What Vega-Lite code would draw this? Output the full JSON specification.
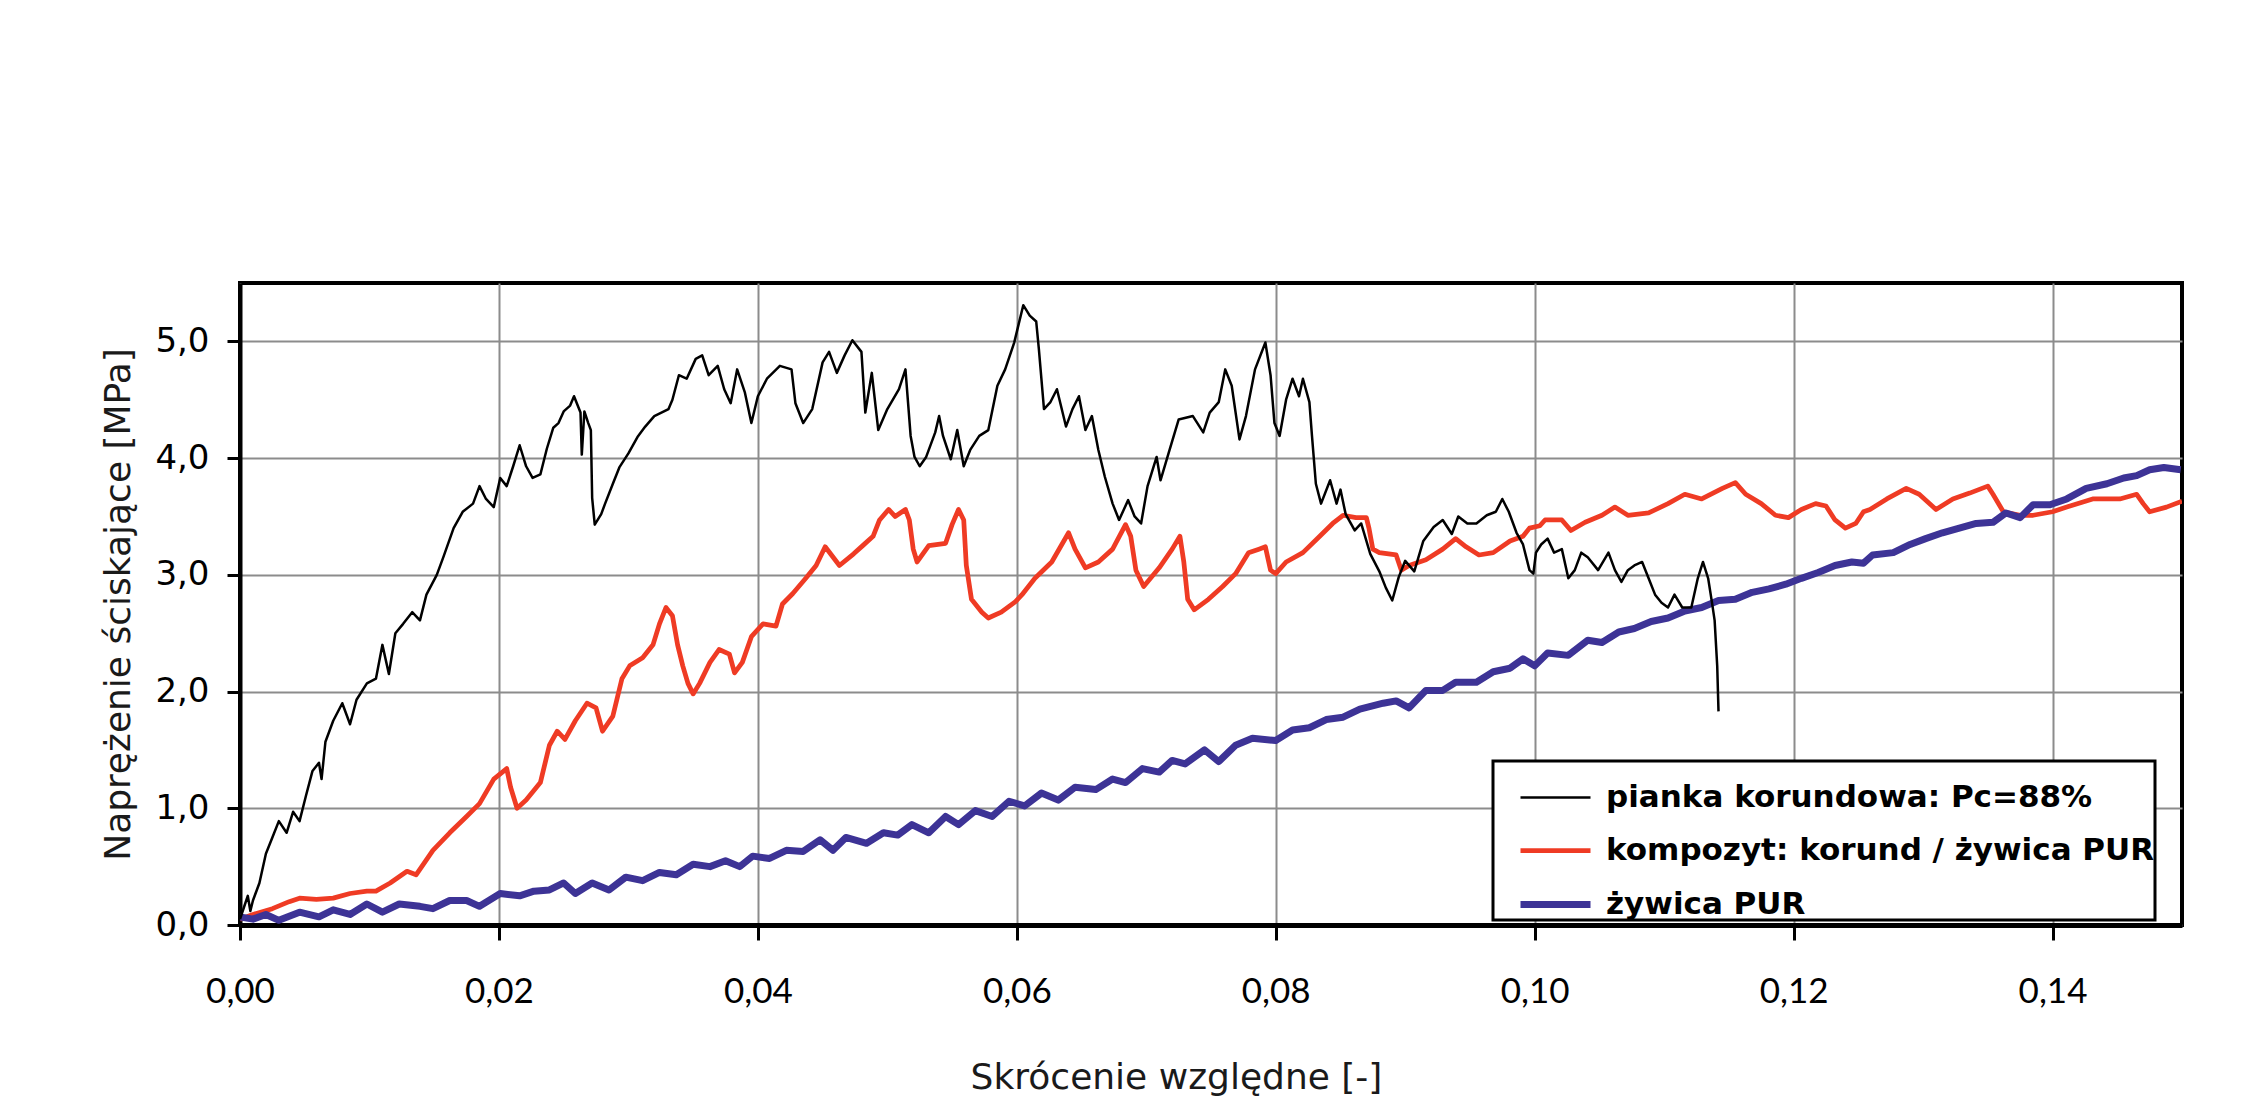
{
  "$schema": "https://vega.github.io/schema/vega-lite/v6.json",
  "width": 1942,
  "height": 642,
  "autosize": {"type": "none"},
  "padding": {"left": 240, "top": 283, "right": 84, "bottom": 195},
  "background": "#ffffff",
  "config": {
    "view": {"stroke": "#000000", "strokeWidth": 4},
    "font": "DejaVu Sans"
  },
  "data": {
    "values": [
      {"s":"K","x":0.0000,"y":0.05},{"s":"K","x":0.0010,"y":0.09},{"s":"K","x":0.0025,"y":0.14},{"s":"K","x":0.0038,"y":0.20},{"s":"K","x":0.0046,"y":0.23},{"s":"K","x":0.0059,"y":0.22},{"s":"K","x":0.0072,"y":0.23},{"s":"K","x":0.0085,"y":0.27},{"s":"K","x":0.0098,"y":0.29},{"s":"K","x":0.0105,"y":0.29},{"s":"K","x":0.0116,"y":0.36},{"s":"K","x":0.0129,"y":0.46},{"s":"K","x":0.0136,"y":0.43},{"s":"K","x":0.0149,"y":0.64},{"s":"K","x":0.0162,"y":0.79},{"s":"K","x":0.0175,"y":0.93},{"s":"K","x":0.0185,"y":1.04},{"s":"K","x":0.0196,"y":1.25},{"s":"K","x":0.0206,"y":1.34},{"s":"K","x":0.0209,"y":1.18},{"s":"K","x":0.0214,"y":1.00},{"s":"K","x":0.0221,"y":1.07},{"s":"K","x":0.0232,"y":1.22},{"s":"K","x":0.0239,"y":1.54},{"s":"K","x":0.0245,"y":1.66},{"s":"K","x":0.0251,"y":1.59},{"s":"K","x":0.0259,"y":1.75},{"s":"K","x":0.0268,"y":1.90},{"s":"K","x":0.0275,"y":1.86},{"s":"K","x":0.0280,"y":1.66},{"s":"K","x":0.0288,"y":1.79},{"s":"K","x":0.0295,"y":2.11},{"s":"K","x":0.0301,"y":2.22},{"s":"K","x":0.0311,"y":2.29},{"s":"K","x":0.0319,"y":2.40},{"s":"K","x":0.0324,"y":2.58},{"s":"K","x":0.0329,"y":2.72},{"s":"K","x":0.0334,"y":2.65},{"s":"K","x":0.0338,"y":2.40},{"s":"K","x":0.0342,"y":2.22},{"s":"K","x":0.0346,"y":2.07},{"s":"K","x":0.0350,"y":1.98},{"s":"K","x":0.0355,"y":2.07},{"s":"K","x":0.0363,"y":2.25},{"s":"K","x":0.0370,"y":2.36},{"s":"K","x":0.0378,"y":2.32},{"s":"K","x":0.0382,"y":2.16},{"s":"K","x":0.0388,"y":2.25},{"s":"K","x":0.0395,"y":2.47},{"s":"K","x":0.0404,"y":2.58},{"s":"K","x":0.0414,"y":2.56},{"s":"K","x":0.0419,"y":2.75},{"s":"K","x":0.0427,"y":2.84},{"s":"K","x":0.0437,"y":2.97},{"s":"K","x":0.0445,"y":3.08},{"s":"K","x":0.0452,"y":3.24},{"s":"K","x":0.0463,"y":3.08},{"s":"K","x":0.0474,"y":3.18},{"s":"K","x":0.0481,"y":3.25},{"s":"K","x":0.0489,"y":3.33},{"s":"K","x":0.0494,"y":3.47},{"s":"K","x":0.0501,"y":3.56},{"s":"K","x":0.0506,"y":3.50},{"s":"K","x":0.0514,"y":3.56},{"s":"K","x":0.0517,"y":3.47},{"s":"K","x":0.0520,"y":3.22},{"s":"K","x":0.0523,"y":3.11},{"s":"K","x":0.0532,"y":3.25},{"s":"K","x":0.0545,"y":3.27},{"s":"K","x":0.0550,"y":3.43},{"s":"K","x":0.0555,"y":3.56},{"s":"K","x":0.0559,"y":3.47},{"s":"K","x":0.0561,"y":3.08},{"s":"K","x":0.0565,"y":2.79},{"s":"K","x":0.0573,"y":2.68},{"s":"K","x":0.0578,"y":2.63},{"s":"K","x":0.0588,"y":2.68},{"s":"K","x":0.0599,"y":2.77},{"s":"K","x":0.0604,"y":2.83},{"s":"K","x":0.0614,"y":2.97},{"s":"K","x":0.0627,"y":3.11},{"s":"K","x":0.0640,"y":3.36},{"s":"K","x":0.0645,"y":3.22},{"s":"K","x":0.0653,"y":3.06},{"s":"K","x":0.0663,"y":3.11},{"s":"K","x":0.0674,"y":3.22},{"s":"K","x":0.0684,"y":3.43},{"s":"K","x":0.0688,"y":3.33},{"s":"K","x":0.0692,"y":3.04},{"s":"K","x":0.0698,"y":2.90},{"s":"K","x":0.0710,"y":3.06},{"s":"K","x":0.0720,"y":3.22},{"s":"K","x":0.0726,"y":3.33},{"s":"K","x":0.0729,"y":3.11},{"s":"K","x":0.0732,"y":2.79},{"s":"K","x":0.0737,"y":2.70},{"s":"K","x":0.0748,"y":2.79},{"s":"K","x":0.0759,"y":2.90},{"s":"K","x":0.0769,"y":3.01},{"s":"K","x":0.0779,"y":3.19},{"s":"K","x":0.0787,"y":3.22},{"s":"K","x":0.0792,"y":3.24},{"s":"K","x":0.0796,"y":3.04},{"s":"K","x":0.0800,"y":3.01},{"s":"K","x":0.0808,"y":3.11},{"s":"K","x":0.0821,"y":3.19},{"s":"K","x":0.0834,"y":3.33},{"s":"K","x":0.0844,"y":3.44},{"s":"K","x":0.0852,"y":3.51},{"s":"K","x":0.0862,"y":3.49},{"s":"K","x":0.0870,"y":3.49},{"s":"K","x":0.0872,"y":3.40},{"s":"K","x":0.0875,"y":3.22},{"s":"K","x":0.0880,"y":3.19},{"s":"K","x":0.0893,"y":3.17},{"s":"K","x":0.0897,"y":3.04},{"s":"K","x":0.0903,"y":3.08},{"s":"K","x":0.0916,"y":3.13},{"s":"K","x":0.0929,"y":3.22},{"s":"K","x":0.0939,"y":3.31},{"s":"K","x":0.0947,"y":3.24},{"s":"K","x":0.0957,"y":3.17},{"s":"K","x":0.0968,"y":3.19},{"s":"K","x":0.0981,"y":3.29},{"s":"K","x":0.0991,"y":3.33},{"s":"K","x":0.0996,"y":3.40},{"s":"K","x":0.1004,"y":3.42},{"s":"K","x":0.1008,"y":3.47},{"s":"K","x":0.1021,"y":3.47},{"s":"K","x":0.1028,"y":3.38},{"s":"K","x":0.1039,"y":3.45},{"s":"K","x":0.1052,"y":3.51},{"s":"K","x":0.1062,"y":3.58},{"s":"K","x":0.1072,"y":3.51},{"s":"K","x":0.1088,"y":3.53},{"s":"K","x":0.1103,"y":3.61},{"s":"K","x":0.1116,"y":3.69},{"s":"K","x":0.1129,"y":3.65},{"s":"K","x":0.1145,"y":3.74},{"s":"K","x":0.1155,"y":3.79},{"s":"K","x":0.1163,"y":3.69},{"s":"K","x":0.1175,"y":3.61},{"s":"K","x":0.1186,"y":3.51},{"s":"K","x":0.1196,"y":3.49},{"s":"K","x":0.1206,"y":3.56},{"s":"K","x":0.1217,"y":3.61},{"s":"K","x":0.1225,"y":3.59},{"s":"K","x":0.1232,"y":3.47},{"s":"K","x":0.1240,"y":3.40},{"s":"K","x":0.1248,"y":3.44},{"s":"K","x":0.1254,"y":3.54},{"s":"K","x":0.1259,"y":3.56},{"s":"K","x":0.1272,"y":3.65},{"s":"K","x":0.1287,"y":3.74},{"s":"K","x":0.1297,"y":3.69},{"s":"K","x":0.1310,"y":3.56},{"s":"K","x":0.1323,"y":3.65},{"s":"K","x":0.1336,"y":3.70},{"s":"K","x":0.1350,"y":3.76},{"s":"K","x":0.1354,"y":3.69},{"s":"K","x":0.1362,"y":3.54},{"s":"K","x":0.1375,"y":3.51},{"s":"K","x":0.1385,"y":3.51},{"s":"K","x":0.1400,"y":3.54},{"s":"K","x":0.1411,"y":3.58},{"s":"K","x":0.1431,"y":3.65},{"s":"K","x":0.1452,"y":3.65},{"s":"K","x":0.1465,"y":3.69},{"s":"K","x":0.1470,"y":3.61},{"s":"K","x":0.1475,"y":3.54},{"s":"K","x":0.1488,"y":3.58},{"s":"K","x":0.1500,"y":3.63},

      {"s":"Z","x":0.0000,"y":0.07},{"s":"Z","x":0.0010,"y":0.05},{"s":"Z","x":0.0020,"y":0.09},{"s":"Z","x":0.0030,"y":0.04},{"s":"Z","x":0.0046,"y":0.11},{"s":"Z","x":0.0061,"y":0.07},{"s":"Z","x":0.0072,"y":0.13},{"s":"Z","x":0.0085,"y":0.09},{"s":"Z","x":0.0098,"y":0.18},{"s":"Z","x":0.0110,"y":0.11},{"s":"Z","x":0.0123,"y":0.18},{"s":"Z","x":0.0139,"y":0.16},{"s":"Z","x":0.0149,"y":0.14},{"s":"Z","x":0.0162,"y":0.21},{"s":"Z","x":0.0175,"y":0.21},{"s":"Z","x":0.0185,"y":0.16},{"s":"Z","x":0.0201,"y":0.27},{"s":"Z","x":0.0216,"y":0.25},{"s":"Z","x":0.0227,"y":0.29},{"s":"Z","x":0.0239,"y":0.30},{"s":"Z","x":0.0250,"y":0.36},{"s":"Z","x":0.0259,"y":0.27},{"s":"Z","x":0.0272,"y":0.36},{"s":"Z","x":0.0285,"y":0.30},{"s":"Z","x":0.0298,"y":0.41},{"s":"Z","x":0.0311,"y":0.38},{"s":"Z","x":0.0324,"y":0.45},{"s":"Z","x":0.0337,"y":0.43},{"s":"Z","x":0.0350,"y":0.52},{"s":"Z","x":0.0363,"y":0.50},{"s":"Z","x":0.0375,"y":0.55},{"s":"Z","x":0.0386,"y":0.50},{"s":"Z","x":0.0396,"y":0.59},{"s":"Z","x":0.0409,"y":0.57},{"s":"Z","x":0.0422,"y":0.64},{"s":"Z","x":0.0435,"y":0.63},{"s":"Z","x":0.0448,"y":0.73},{"s":"Z","x":0.0458,"y":0.64},{"s":"Z","x":0.0468,"y":0.75},{"s":"Z","x":0.0484,"y":0.70},{"s":"Z","x":0.0497,"y":0.79},{"s":"Z","x":0.0508,"y":0.77},{"s":"Z","x":0.0519,"y":0.86},{"s":"Z","x":0.0532,"y":0.79},{"s":"Z","x":0.0545,"y":0.93},{"s":"Z","x":0.0555,"y":0.86},{"s":"Z","x":0.0568,"y":0.98},{"s":"Z","x":0.0581,"y":0.93},{"s":"Z","x":0.0594,"y":1.06},{"s":"Z","x":0.0606,"y":1.02},{"s":"Z","x":0.0619,"y":1.13},{"s":"Z","x":0.0632,"y":1.07},{"s":"Z","x":0.0645,"y":1.18},{"s":"Z","x":0.0661,"y":1.16},{"s":"Z","x":0.0674,"y":1.25},{"s":"Z","x":0.0684,"y":1.22},{"s":"Z","x":0.0697,"y":1.34},{"s":"Z","x":0.0710,"y":1.31},{"s":"Z","x":0.0720,"y":1.41},{"s":"Z","x":0.0730,"y":1.38},{"s":"Z","x":0.0745,"y":1.50},{"s":"Z","x":0.0756,"y":1.40},{"s":"Z","x":0.0769,"y":1.54},{"s":"Z","x":0.0782,"y":1.60},{"s":"Z","x":0.0800,"y":1.58},{"s":"Z","x":0.0813,"y":1.67},{"s":"Z","x":0.0826,"y":1.69},{"s":"Z","x":0.0839,"y":1.76},{"s":"Z","x":0.0852,"y":1.78},{"s":"Z","x":0.0865,"y":1.85},{"s":"Z","x":0.0883,"y":1.90},{"s":"Z","x":0.0893,"y":1.92},{"s":"Z","x":0.0903,"y":1.86},{"s":"Z","x":0.0916,"y":2.01},{"s":"Z","x":0.0929,"y":2.01},{"s":"Z","x":0.0939,"y":2.08},{"s":"Z","x":0.0955,"y":2.08},{"s":"Z","x":0.0968,"y":2.17},{"s":"Z","x":0.0981,"y":2.20},{"s":"Z","x":0.0991,"y":2.28},{"s":"Z","x":0.1000,"y":2.22},{"s":"Z","x":0.1010,"y":2.33},{"s":"Z","x":0.1026,"y":2.31},{"s":"Z","x":0.1041,"y":2.44},{"s":"Z","x":0.1052,"y":2.42},{"s":"Z","x":0.1065,"y":2.51},{"s":"Z","x":0.1077,"y":2.54},{"s":"Z","x":0.1090,"y":2.60},{"s":"Z","x":0.1103,"y":2.63},{"s":"Z","x":0.1116,"y":2.69},{"s":"Z","x":0.1129,"y":2.72},{"s":"Z","x":0.1142,"y":2.78},{"s":"Z","x":0.1155,"y":2.79},{"s":"Z","x":0.1168,"y":2.85},{"s":"Z","x":0.1181,"y":2.88},{"s":"Z","x":0.1194,"y":2.92},{"s":"Z","x":0.1206,"y":2.97},{"s":"Z","x":0.1219,"y":3.02},{"s":"Z","x":0.1232,"y":3.08},{"s":"Z","x":0.1245,"y":3.11},{"s":"Z","x":0.1254,"y":3.10},{"s":"Z","x":0.1261,"y":3.17},{"s":"Z","x":0.1277,"y":3.19},{"s":"Z","x":0.1290,"y":3.26},{"s":"Z","x":0.1302,"y":3.31},{"s":"Z","x":0.1315,"y":3.36},{"s":"Z","x":0.1328,"y":3.40},{"s":"Z","x":0.1341,"y":3.44},{"s":"Z","x":0.1354,"y":3.45},{"s":"Z","x":0.1364,"y":3.53},{"s":"Z","x":0.1375,"y":3.49},{"s":"Z","x":0.1385,"y":3.60},{"s":"Z","x":0.1398,"y":3.60},{"s":"Z","x":0.1411,"y":3.65},{"s":"Z","x":0.1426,"y":3.74},{"s":"Z","x":0.1442,"y":3.78},{"s":"Z","x":0.1455,"y":3.83},{"s":"Z","x":0.1465,"y":3.85},{"s":"Z","x":0.1475,"y":3.90},{"s":"Z","x":0.1486,"y":3.92},{"s":"Z","x":0.1499,"y":3.90},

      {"s":"P","x":0.0000,"y":0.05},{"s":"P","x":0.0003,"y":0.15},{"s":"P","x":0.0006,"y":0.25},{"s":"P","x":0.0008,"y":0.12},{"s":"P","x":0.0010,"y":0.21},{"s":"P","x":0.0015,"y":0.36},{"s":"P","x":0.0020,"y":0.61},{"s":"P","x":0.0025,"y":0.75},{"s":"P","x":0.0030,"y":0.89},{"s":"P","x":0.0036,"y":0.79},{"s":"P","x":0.0041,"y":0.97},{"s":"P","x":0.0046,"y":0.89},{"s":"P","x":0.0051,"y":1.11},{"s":"P","x":0.0056,"y":1.32},{"s":"P","x":0.0061,"y":1.39},{"s":"P","x":0.0063,"y":1.25},{"s":"P","x":0.0066,"y":1.57},{"s":"P","x":0.0072,"y":1.75},{"s":"P","x":0.0079,"y":1.90},{"s":"P","x":0.0085,"y":1.72},{"s":"P","x":0.0090,"y":1.93},{"s":"P","x":0.0098,"y":2.07},{"s":"P","x":0.0105,"y":2.11},{"s":"P","x":0.0110,"y":2.40},{"s":"P","x":0.0115,"y":2.15},{"s":"P","x":0.0120,"y":2.50},{"s":"P","x":0.0126,"y":2.58},{"s":"P","x":0.0133,"y":2.68},{"s":"P","x":0.0139,"y":2.61},{"s":"P","x":0.0144,"y":2.83},{"s":"P","x":0.0152,"y":3.00},{"s":"P","x":0.0157,"y":3.15},{"s":"P","x":0.0165,"y":3.40},{"s":"P","x":0.0172,"y":3.54},{"s":"P","x":0.0180,"y":3.61},{"s":"P","x":0.0185,"y":3.76},{"s":"P","x":0.0190,"y":3.65},{"s":"P","x":0.0196,"y":3.58},{"s":"P","x":0.0201,"y":3.83},{"s":"P","x":0.0206,"y":3.76},{"s":"P","x":0.0211,"y":3.93},{"s":"P","x":0.0216,"y":4.11},{"s":"P","x":0.0221,"y":3.93},{"s":"P","x":0.0226,"y":3.83},{"s":"P","x":0.0232,"y":3.86},{"s":"P","x":0.0237,"y":4.08},{"s":"P","x":0.0242,"y":4.26},{"s":"P","x":0.0246,"y":4.30},{"s":"P","x":0.0250,"y":4.40},{"s":"P","x":0.0255,"y":4.45},{"s":"P","x":0.0258,"y":4.53},{"s":"P","x":0.0263,"y":4.39},{"s":"P","x":0.0264,"y":4.03},{"s":"P","x":0.0266,"y":4.40},{"s":"P","x":0.0269,"y":4.30},{"s":"P","x":0.0271,"y":4.24},{"s":"P","x":0.0272,"y":3.66},{"s":"P","x":0.0274,"y":3.43},{"s":"P","x":0.0279,"y":3.52},{"s":"P","x":0.0282,"y":3.61},{"s":"P","x":0.0288,"y":3.78},{"s":"P","x":0.0293,"y":3.92},{"s":"P","x":0.0300,"y":4.04},{"s":"P","x":0.0307,"y":4.18},{"s":"P","x":0.0313,"y":4.27},{"s":"P","x":0.0320,"y":4.36},{"s":"P","x":0.0331,"y":4.42},{"s":"P","x":0.0334,"y":4.50},{"s":"P","x":0.0339,"y":4.71},{"s":"P","x":0.0345,"y":4.68},{"s":"P","x":0.0352,"y":4.85},{"s":"P","x":0.0357,"y":4.88},{"s":"P","x":0.0362,"y":4.71},{"s":"P","x":0.0369,"y":4.79},{"s":"P","x":0.0374,"y":4.59},{"s":"P","x":0.0379,"y":4.47},{"s":"P","x":0.0384,"y":4.76},{"s":"P","x":0.0390,"y":4.56},{"s":"P","x":0.0395,"y":4.30},{"s":"P","x":0.0400,"y":4.53},{"s":"P","x":0.0407,"y":4.68},{"s":"P","x":0.0417,"y":4.79},{"s":"P","x":0.0426,"y":4.76},{"s":"P","x":0.0429,"y":4.47},{"s":"P","x":0.0435,"y":4.30},{"s":"P","x":0.0442,"y":4.42},{"s":"P","x":0.0450,"y":4.82},{"s":"P","x":0.0455,"y":4.91},{"s":"P","x":0.0461,"y":4.73},{"s":"P","x":0.0467,"y":4.88},{"s":"P","x":0.0473,"y":5.01},{"s":"P","x":0.0480,"y":4.91},{"s":"P","x":0.0483,"y":4.39},{"s":"P","x":0.0488,"y":4.73},{"s":"P","x":0.0493,"y":4.24},{"s":"P","x":0.0500,"y":4.42},{"s":"P","x":0.0509,"y":4.59},{"s":"P","x":0.0514,"y":4.76},{"s":"P","x":0.0518,"y":4.19},{"s":"P","x":0.0521,"y":4.01},{"s":"P","x":0.0525,"y":3.93},{"s":"P","x":0.0530,"y":4.01},{"s":"P","x":0.0537,"y":4.22},{"s":"P","x":0.0540,"y":4.36},{"s":"P","x":0.0543,"y":4.19},{"s":"P","x":0.0549,"y":3.99},{"s":"P","x":0.0554,"y":4.24},{"s":"P","x":0.0559,"y":3.93},{"s":"P","x":0.0564,"y":4.07},{"s":"P","x":0.0571,"y":4.19},{"s":"P","x":0.0578,"y":4.24},{"s":"P","x":0.0585,"y":4.62},{"s":"P","x":0.0591,"y":4.76},{"s":"P","x":0.0598,"y":4.99},{"s":"P","x":0.0605,"y":5.31},{"s":"P","x":0.0610,"y":5.22},{"s":"P","x":0.0615,"y":5.17},{"s":"P","x":0.0617,"y":4.94},{"s":"P","x":0.0621,"y":4.42},{"s":"P","x":0.0626,"y":4.48},{"s":"P","x":0.0631,"y":4.59},{"s":"P","x":0.0638,"y":4.27},{"s":"P","x":0.0643,"y":4.42},{"s":"P","x":0.0648,"y":4.53},{"s":"P","x":0.0653,"y":4.24},{"s":"P","x":0.0658,"y":4.36},{"s":"P","x":0.0663,"y":4.07},{"s":"P","x":0.0668,"y":3.84},{"s":"P","x":0.0674,"y":3.61},{"s":"P","x":0.0679,"y":3.47},{"s":"P","x":0.0686,"y":3.64},{"s":"P","x":0.0691,"y":3.50},{"s":"P","x":0.0696,"y":3.44},{"s":"P","x":0.0701,"y":3.76},{"s":"P","x":0.0708,"y":4.01},{"s":"P","x":0.0711,"y":3.81},{"s":"P","x":0.0718,"y":4.07},{"s":"P","x":0.0725,"y":4.33},{"s":"P","x":0.0736,"y":4.36},{"s":"P","x":0.0744,"y":4.22},{"s":"P","x":0.0749,"y":4.39},{"s":"P","x":0.0756,"y":4.48},{"s":"P","x":0.0761,"y":4.76},{"s":"P","x":0.0766,"y":4.62},{"s":"P","x":0.0772,"y":4.16},{"s":"P","x":0.0777,"y":4.36},{"s":"P","x":0.0784,"y":4.76},{"s":"P","x":0.0792,"y":4.99},{"s":"P","x":0.0796,"y":4.71},{"s":"P","x":0.0799,"y":4.30},{"s":"P","x":0.0803,"y":4.19},{"s":"P","x":0.0808,"y":4.50},{"s":"P","x":0.0813,"y":4.68},{"s":"P","x":0.0818,"y":4.53},{"s":"P","x":0.0821,"y":4.68},{"s":"P","x":0.0826,"y":4.48},{"s":"P","x":0.0828,"y":4.19},{"s":"P","x":0.0831,"y":3.78},{"s":"P","x":0.0835,"y":3.61},{"s":"P","x":0.0842,"y":3.81},{"s":"P","x":0.0847,"y":3.61},{"s":"P","x":0.0850,"y":3.73},{"s":"P","x":0.0854,"y":3.52},{"s":"P","x":0.0861,"y":3.38},{"s":"P","x":0.0866,"y":3.44},{"s":"P","x":0.0873,"y":3.18},{"s":"P","x":0.0880,"y":3.03},{"s":"P","x":0.0885,"y":2.89},{"s":"P","x":0.0890,"y":2.78},{"s":"P","x":0.0895,"y":2.98},{"s":"P","x":0.0900,"y":3.12},{"s":"P","x":0.0907,"y":3.03},{"s":"P","x":0.0914,"y":3.29},{"s":"P","x":0.0922,"y":3.41},{"s":"P","x":0.0929,"y":3.47},{"s":"P","x":0.0936,"y":3.35},{"s":"P","x":0.0941,"y":3.50},{"s":"P","x":0.0948,"y":3.44},{"s":"P","x":0.0955,"y":3.44},{"s":"P","x":0.0963,"y":3.51},{"s":"P","x":0.0970,"y":3.54},{"s":"P","x":0.0975,"y":3.65},{"s":"P","x":0.0980,"y":3.54},{"s":"P","x":0.0986,"y":3.36},{"s":"P","x":0.0991,"y":3.26},{"s":"P","x":0.0996,"y":3.04},{"s":"P","x":0.0999,"y":3.01},{"s":"P","x":0.1001,"y":3.19},{"s":"P","x":0.1005,"y":3.26},{"s":"P","x":0.1010,"y":3.31},{"s":"P","x":0.1015,"y":3.19},{"s":"P","x":0.1021,"y":3.22},{"s":"P","x":0.1026,"y":2.97},{"s":"P","x":0.1031,"y":3.04},{"s":"P","x":0.1036,"y":3.19},{"s":"P","x":0.1041,"y":3.15},{"s":"P","x":0.1049,"y":3.04},{"s":"P","x":0.1057,"y":3.19},{"s":"P","x":0.1062,"y":3.04},{"s":"P","x":0.1067,"y":2.94},{"s":"P","x":0.1072,"y":3.04},{"s":"P","x":0.1077,"y":3.08},{"s":"P","x":0.1083,"y":3.11},{"s":"P","x":0.1088,"y":2.97},{"s":"P","x":0.1093,"y":2.83},{"s":"P","x":0.1098,"y":2.76},{"s":"P","x":0.1103,"y":2.72},{"s":"P","x":0.1108,"y":2.83},{"s":"P","x":0.1114,"y":2.72},{"s":"P","x":0.1121,"y":2.72},{"s":"P","x":0.1126,"y":2.97},{"s":"P","x":0.1130,"y":3.11},{"s":"P","x":0.1134,"y":2.97},{"s":"P","x":0.1137,"y":2.76},{"s":"P","x":0.1139,"y":2.61},{"s":"P","x":0.1141,"y":2.22},{"s":"P","x":0.1142,"y":1.83}
    ]
  },
  "mark": {"type": "line", "strokeJoin": "round", "strokeCap": "butt", "clip": true},
  "encoding": {
    "x": {
      "field": "x", "type": "quantitative",
      "scale": {"domain": [0, 0.15], "nice": false, "zero": false},
      "axis": {
        "values": [0, 0.02, 0.04, 0.06, 0.08, 0.10, 0.12, 0.14],
        "labelExpr": "replace(format(datum.value, '.2f'), '.', ',')",
        "labelFlush": false,
        "title": "Skrócenie względne [-]",
        "titleFont": "DejaVu Sans", "titleFontSize": 36, "titleFontWeight": "normal", "titleColor": "#1a1a1a",
        "titleX": 936, "titleY": 152, "titleBaseline": "middle", "titleAlign": "center",
        "labelFont": "Lato", "labelFontSize": 35, "labelColor": "#000000", "labelPadding": 34,
        "domainColor": "#000000", "domainWidth": 5,
        "tickColor": "#000000", "tickWidth": 3, "tickSize": 15,
        "grid": true, "gridColor": "#8c8c8c", "gridWidth": 2
      }
    },
    "y": {
      "field": "y", "type": "quantitative",
      "scale": {"domain": [0, 5.5], "nice": false},
      "axis": {
        "values": [0, 1, 2, 3, 4, 5],
        "labelExpr": "replace(format(datum.value, '.1f'), '.', ',')",
        "labelFlush": false,
        "title": "Naprężenie ściskające [MPa]",
        "titleFont": "DejaVu Sans", "titleFontSize": 36, "titleFontWeight": "normal", "titleColor": "#1a1a1a",
        "titleX": -122, "titleY": 321, "titleAngle": -90, "titleBaseline": "middle", "titleAlign": "center",
        "labelFont": "DejaVu Sans", "labelFontSize": 34, "labelColor": "#000000", "labelPadding": 18,
        "domainColor": "#000000", "domainWidth": 4,
        "tickColor": "#000000", "tickWidth": 3, "tickSize": 13,
        "grid": true, "gridColor": "#8c8c8c", "gridWidth": 2
      }
    },
    "color": {
      "field": "s", "type": "nominal",
      "scale": {"domain": ["P", "K", "Z"], "range": ["#000000", "#ef3b24", "#3d3396"]},
      "legend": {
        "orient": "none", "legendX": 1253, "legendY": 478,
        "title": null,
        "labelExpr": "datum.value == 'P' ? 'pianka korundowa: Pc=88%' : datum.value == 'K' ? 'kompozyt: korund / żywica PUR\u00a0\u00a0' : 'żywica PUR'",
        "labelFont": "DejaVu Sans", "labelFontSize": 31, "labelFontWeight": "bold", "labelColor": "#000000",
        "symbolType": "stroke", "symbolSize": 4900, "symbolStrokeWidth": 3,
        "labelOffset": 12, "rowPadding": -11, "padding": 0, "symbolOffset": 24,
        "fillColor": "#ffffff", "strokeColor": "#000000", "labelLimit": 800,
        "encode": {
          "legend": {"update": {"strokeWidth": {"value": 3}}},
          "symbols": {"update": {"strokeWidth": {"value": 3}}}
        }
      }
    },
    "strokeWidth": {
      "field": "s", "type": "nominal",
      "scale": {"domain": ["P", "K", "Z"], "range": [2.5, 7, 9]},
      "legend": null
    },
    "order": {"field": "x", "type": "quantitative"}
  }
}
